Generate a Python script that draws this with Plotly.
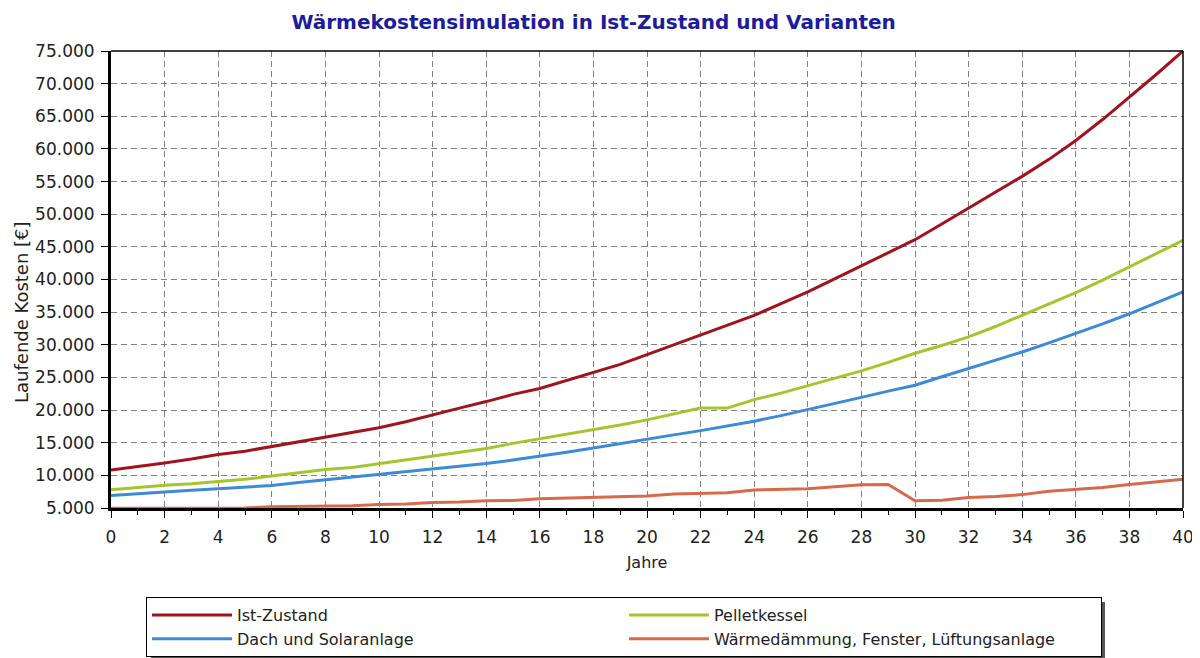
import plotly.graph_objects as go

years = list(range(0, 41))

ist_zustand = [10800, 11300, 11900, 12500, 13200, 13700, 14400, 15100, 15900, 16500,
               17300, 18200, 19300, 20300, 21300, 22400, 23300, 24500, 25700, 27000,
               28500, 30000, 31500, 33000, 34500, 36300, 38100, 40100, 42100, 44100,
               46100, 48500, 50900, 53300, 55800, 58400, 61300, 64500, 67900, 71400,
               75000]

pelletkessel = [7800, 8200, 8500, 8700, 9000, 9400, 9900, 10400, 10900, 11200,
                11800, 12300, 12900, 13500, 14100, 14900, 15600, 16300, 16900, 17700,
                18500, 19400, 20300, 20300, 21600, 22600, 23700, 24800, 26000, 27300,
                28700, 29900, 31200, 32800, 34500, 36200, 38000, 39900, 41900, 43900,
                46000]

dach_solar = [6900, 7200, 7450, 7700, 7950, 8200, 8450, 8900, 9300, 9700,
              10100, 10500, 11000, 11400, 11800, 12350, 12900, 13550, 14200, 14900,
              15550, 16200, 16850, 17550, 18300, 19150, 20050, 21000, 21950, 22900,
              23800, 25100, 26350, 27600, 28900, 30300, 31700, 33200, 34750, 36400,
              38100]

daemmung = [4950, 4950, 4950, 5000, 5000, 5000, 5200, 5250, 5300, 5350,
            5550, 5600, 5850, 5900, 6100, 6150, 6400, 6500, 6650, 6700,
            6850, 7150, 7200, 7350, 7750, 7800, 7950, 8250, 8550, 8600,
            6100, 6200, 6600, 6750, 7050, 7550, 7850, 8150, 8600, 8950,
            9400]

series_names = ["Ist-Zustand", "Pelletkessel", "Dach und Solaranlage",
                "Wärmedämmung, Fenster, Lüftungsanlage"]
series_values = [ist_zustand, pelletkessel, dach_solar, daemmung]
series_colors = ["#A0141E", "#A3C62D", "#3C8AD8", "#D8694A"]

title_text = "Wärmekostensimulation in Ist-Zustand und Varianten"
x_title = "Jahre"
y_title = "Laufende Kosten [€]"

FONT = "DejaVu Sans"

fig = go.Figure()
for name, vals, col in zip(series_names, series_values, series_colors):
    fig.add_trace(go.Scatter(x=years, y=vals, mode="lines", name=name,
                             line=dict(color=col, width=3)))

# page body has an 8px margin, so figure coordinates = screen coordinates - 8
OFF = 8
W, H = 1200, 658
ml = 111 - OFF
mt = 51 - OFF
mr = W - (1183 - OFF)
mb = H - (508 - OFF)
pw = W - ml - mr
ph = H - mt - mb

def px_to_paper_x(px):
    return (px - OFF - ml) / pw

def px_to_paper_y(py):
    return (H - mb - (py - OFF)) / ph

fig.update_layout(
    width=W, height=H,
    margin=dict(l=ml, r=mr, t=mt, b=mb, autoexpand=False),
    paper_bgcolor="white", plot_bgcolor="white",
    separators=",.",
    font=dict(family=FONT, size=16, color="#222222"),
    title=dict(text="<b>" + title_text + "</b>", x=0.488, xanchor="center",
               y=1 - (22 - OFF) / H, yanchor="middle",
               font=dict(family=FONT, size=20, color="#1C1C9C")),
    showlegend=True,
    legend=dict(orientation="h", xref="container", yref="container",
                x=(146 - OFF) / W, xanchor="left",
                y=(H - (597 - OFF)) / H, yanchor="top",
                bgcolor="white", bordercolor="black", borderwidth=1,
                entrywidth=382, itemwidth=80,
                font=dict(family=FONT, size=16, color="#222222"),
                traceorder="normal"),
    xaxis=dict(range=[0, 40], tick0=0, dtick=2, showgrid=True,
               gridcolor="#808080", griddash="6px,4px", gridwidth=1,
               showline=True, linecolor="black", linewidth=3,
               ticks="outside", ticklen=7, tickcolor="black", tickwidth=1,
               ticklabelstandoff=5,
               minor=dict(dtick=1, ticks="outside", ticklen=4, tickcolor="black", showgrid=False),
               tickfont=dict(family=FONT, size=17, color="#222222"),
               zeroline=False, automargin=False,
               title=dict(text=x_title, standoff=11,
                          font=dict(family=FONT, size=16, color="#222222"))),
    yaxis=dict(range=[5000, 75000], tick0=5000, dtick=5000, tickformat=",d",
               showgrid=True, gridcolor="#808080", griddash="6px,4px", gridwidth=1,
               showline=True, linecolor="black", linewidth=3,
               ticks="outside", ticklen=7, tickcolor="black", tickwidth=1,
               ticklabelstandoff=3,
               tickfont=dict(family=FONT, size=17, color="#222222"),
               zeroline=False, automargin=False),
    annotations=[
        dict(text=y_title, textangle=-90, showarrow=False,
             xref="paper", yref="paper",
             x=px_to_paper_x(21), y=px_to_paper_y(312),
             xanchor="center", yanchor="middle",
             font=dict(family=FONT, size=18, color="#222222")),
    ],
    shapes=[
        dict(type="line", xref="paper", yref="paper", x0=0, x1=1, y0=1, y1=1,
             line=dict(color="black", width=1.5)),
        dict(type="line", xref="paper", yref="paper", x0=1, x1=1, y0=0, y1=1,
             line=dict(color="black", width=1.5)),
        dict(type="rect", xref="paper", yref="paper",
             x0=px_to_paper_x(151), x1=px_to_paper_x(1105),
             y0=px_to_paper_y(660), y1=px_to_paper_y(602),
             fillcolor="#555555", line=dict(width=0), layer="above"),
    ],
)

fig.write_html("out.html")
